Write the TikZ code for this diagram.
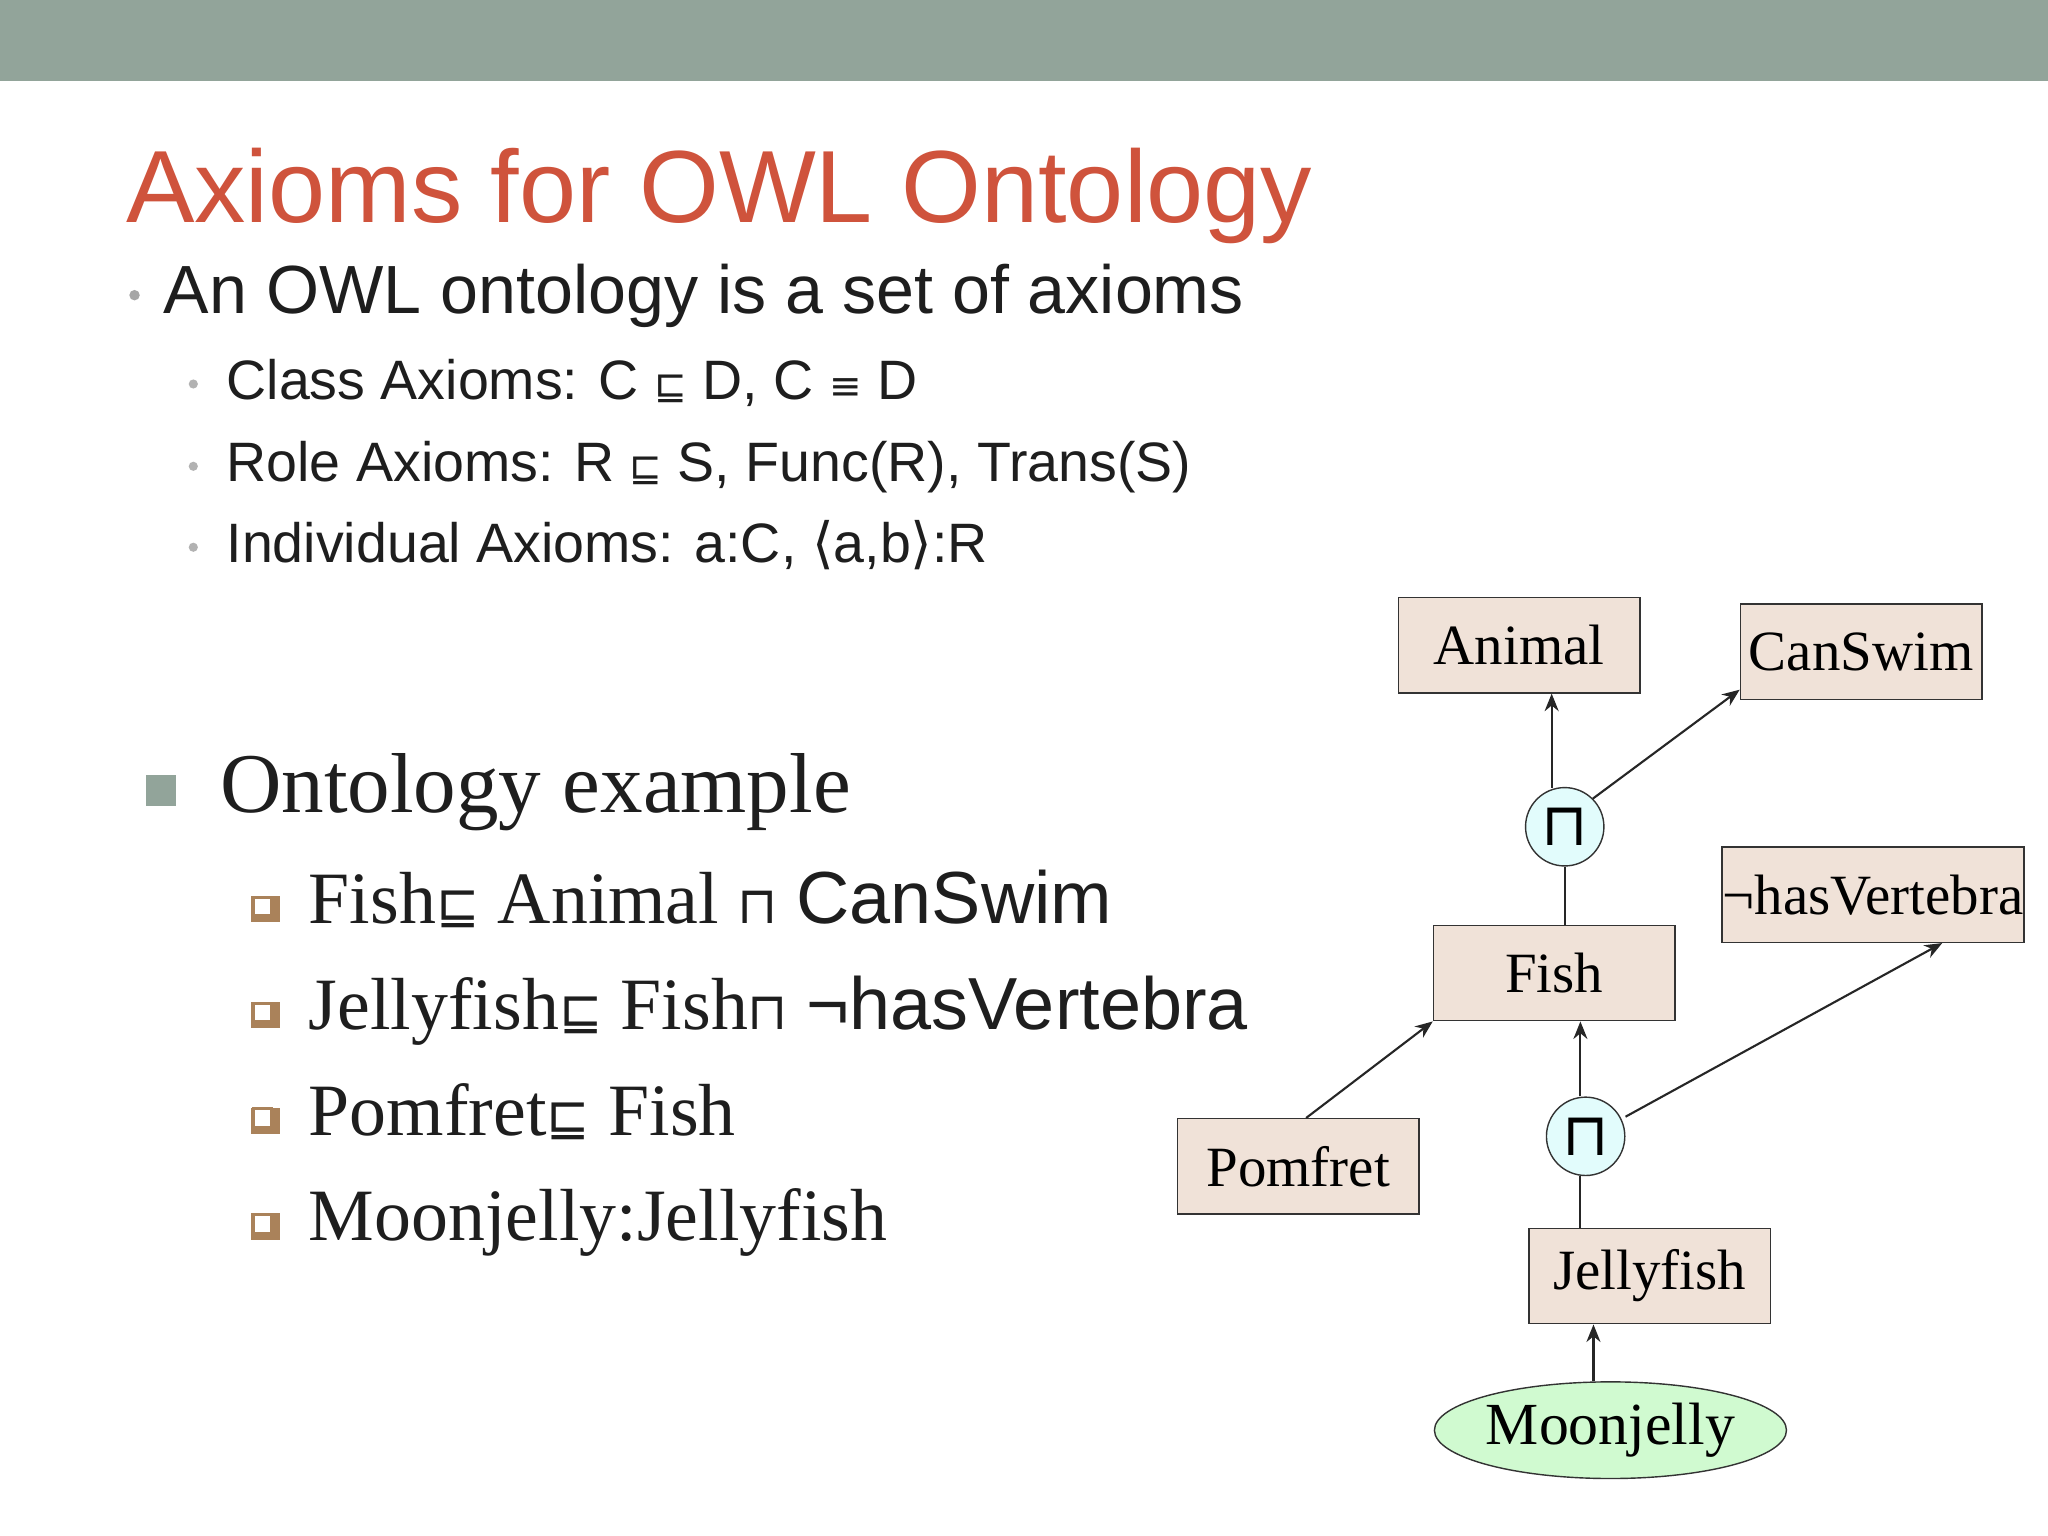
\documentclass[tikz,border=0pt]{standalone}
\usepackage{fontspec}
\setmainfont{Liberation Serif}
\setsansfont{Liberation Sans}
\newfontfamily\symf{DejaVu Sans}
\newcommand{\sm}[1]{{\symf\scalebox{0.7}{#1}}}
\usetikzlibrary{shapes.geometric,arrows.meta,calc}
\definecolor{barc}{RGB}{146,164,154}
\definecolor{titc}{RGB}{207,83,60}
\definecolor{boxc}{RGB}{240,226,216}
\definecolor{circc}{RGB}{226,252,252}
\definecolor{ellc}{RGB}{208,250,208}
\definecolor{txtc}{RGB}{30,30,30}
\definecolor{bulc}{RGB}{170,130,90}
\begin{document}
\begin{tikzpicture}[x=0.013061cm,y=-0.013061cm,
  cbox/.style={draw=black!80,fill=boxc,minimum width=185*0.013061cm,minimum height=73*0.013061cm,inner sep=0,font=\fontsize{16.2}{18}\selectfont},
  opc/.style={circle,draw=black!80,fill=circc,minimum size=60*0.013061cm,inner sep=0,font=\symf\fontsize{17}{17}\selectfont},
  arr/.style={-{Stealth[length=5pt,width=4pt]},black!85,line width=0.6pt},
  ln/.style={black!85,line width=0.6pt},
  sq/.style={draw=bulc,fill=white,line width=0.8pt,minimum size=14*0.013061cm,inner sep=0}]
\useasboundingbox (0,0) rectangle (1568,1176);
\fill[white] (0,0) rectangle (1568,1176);
\fill[barc] (0,0) rectangle (1568,62);
\node[anchor=base west,text=titc,font=\sffamily\fontsize{29.2}{30}\selectfont,inner sep=0] (title) at (96,170) {Axioms for OWL Ontology};
\node[anchor=base west,text=txtc,font=\sffamily\fontsize{19.4}{20}\selectfont,inner sep=0] (l1) at (125,240) {An OWL ontology is a set of axioms};
\fill[gray!70] (103,226) circle (4);
\begin{scope}[every node/.style={anchor=base west,text=txtc,font=\sffamily\fontsize{15.8}{16}\selectfont,inner sep=0}]
\node (s1) at (173,306) {Class Axioms: C \sm{⊑} D, C \sm{≡} D};
\node (s2) at (173,369) {Role Axioms: R \sm{⊑} S, Func(R), Trans(S)};
\node (s3) at (173,431) {Individual Axioms: a:C, {\symf⟨}a,b{\symf⟩}:R};
\end{scope}
\foreach \yy in {294,357,419} \fill[gray!60] (148,\yy) circle (3.5);
\fill[barc] (112,593) rectangle (135,617);
\node[anchor=base west,text=txtc,font=\fontsize{24.2}{25}\selectfont,inner sep=0] (oe) at (168,622) {Ontology example};
\begin{scope}[every node/.style={anchor=base west,text=txtc,font=\fontsize{21}{22}\selectfont,inner sep=0}]
\node (e1) at (236,707) {Fish\sm{⊑} Animal \sm{⊓} {\sffamily CanSwim}};
\node (e2) at (236,788) {Jellyfish\sm{⊑} Fish\sm{⊓} {\sffamily ¬hasVertebra}};
\node (e3) at (236,869) {Pomfret\sm{⊑} Fish};
\node (e4) at (236,950) {Moonjelly:Jellyfish};
\end{scope}
\foreach \yy in {686,767,848,929} {\fill[bulc] (192,\yy) rectangle (214,\yy+20); \node[sq] at (201,\yy+8) {};}
% diagram
\node[cbox] (anim) at (1163,494) {Animal};
\node[cbox] (swim) at (1425,499) {CanSwim};
\node[opc] (c1) at (1198,633) {⊓};
\node[cbox,minimum width=231*0.013061cm] (vert) at (1434,685) {¬hasVertebra};
\node[cbox] (fish) at (1190,745) {Fish};
\node[opc] (c2) at (1214,870) {⊓};
\node[cbox] (pom) at (994,893) {Pomfret};
\node[cbox] (jel) at (1263,977) {Jellyfish};
\node[ellipse,draw=black!80,fill=ellc,minimum width=246*0.013061cm,minimum height=74*0.013061cm,inner sep=0,font=\fontsize{17}{18}\selectfont] (moon) at (1233,1095) {Moonjelly};
\draw[arr] ($(c1.north)+(-10,1)$) -- ($(anim.south)+(25,0)$);
\draw[arr] (c1.north east) -- ($(swim.south west)+(0,-8)$);
\draw[ln] (fish.north -| c1.south) -- (c1.south);
\draw[arr] ($(c2.north)+(-4,0)$) -- ($(fish.south)+(20,0)$);
\draw[arr] (c2.east) ++(0,-15) -- ($(vert.south)+(53,0)$);
\draw[ln] ($(jel.north)+(-53,0)$) -- ($(c2.south)+(-4,0)$);
\draw[arr] ($(pom.north)+(6,0)$) -- (fish.south west);
\draw[arr] ($(moon.north)+(-13,0)$) -- ($(jel.south)+(-43,0)$);
\end{tikzpicture}
\end{document}
